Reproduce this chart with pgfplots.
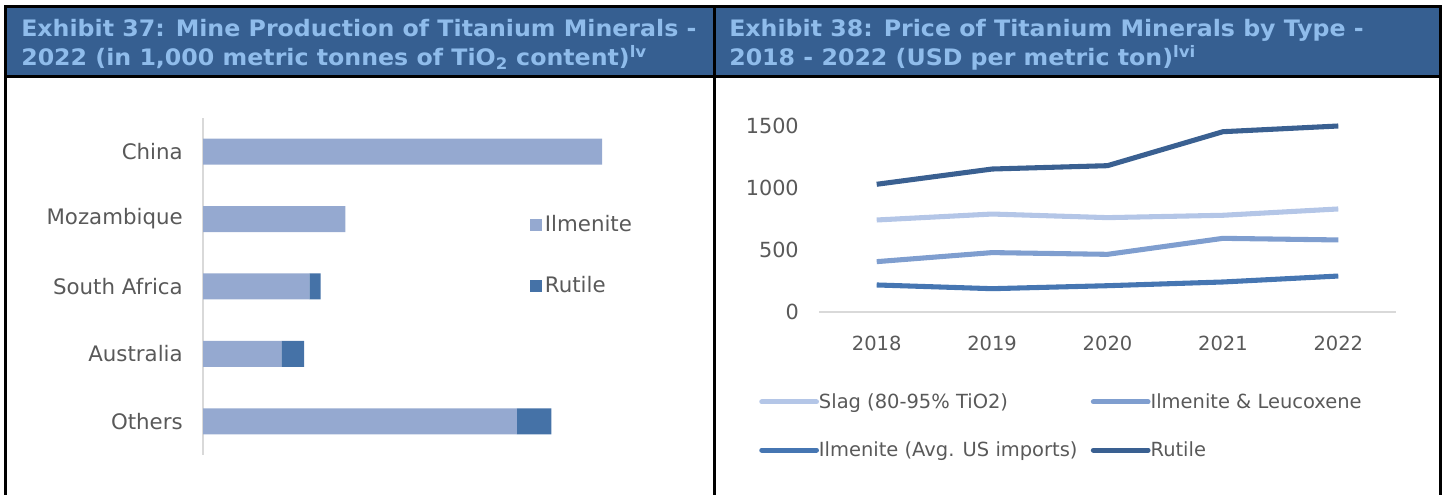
\documentclass[border=0pt]{standalone}
\usepackage{fontspec}
\setmainfont{DejaVu Sans}
\newfontfamily\hdrfont{DejaVu Sans}[FakeStretch=1.045]
\usepackage{pgfplots}
\pgfplotsset{compat=1.18}

\definecolor{hdrbg}{RGB}{54,95,145}
\definecolor{hdrtxt}{RGB}{143,188,235}
\definecolor{lbl}{RGB}{89,89,89}
\definecolor{axgray}{RGB}{217,217,217}
\definecolor{barilm}{RGB}{149,169,208}
\definecolor{barrut}{RGB}{69,114,167}
\definecolor{slag}{RGB}{180,198,231}
\definecolor{ilmleu}{RGB}{127,158,207}
\definecolor{ilmus}{RGB}{70,118,178}
\definecolor{rutile}{RGB}{58,96,145}

\newcommand{\lblfont}{\fontsize{14.6}{17}\selectfont}
\newcommand{\catfont}{\fontsize{16}{19}\selectfont}
\newcommand{\hdr}{\hdrfont\bfseries\fontsize{17}{20}\selectfont}

\begin{document}
\begin{tikzpicture}
% frame and headers, in pixels of the reference (1px = 0.75pt)
\begin{scope}[x=0.75pt,y=0.75pt]
\path[use as bounding box] (0,0) rectangle (1446,495);
\fill[hdrbg] (5,418) rectangle (1440,488);
\draw[line width=2.25pt] (5,0) -- (5,488) -- (1440,488) -- (1440,0);
\draw[line width=2.25pt] (5,418) -- (1440,418);
\draw[line width=2.25pt] (714,0) -- (714,488);
\node[anchor=base west, inner sep=0pt, text=hdrtxt, font=\hdr] at (21,458)
  {Exhibit 37: Mine Production of Titanium Minerals -};
\node[anchor=base west, inner sep=0pt, text=hdrtxt, font=\hdr] at (21,429)
  {2022 (in 1,000 metric tonnes of TiO\textsubscript{2} content)\textsuperscript{lv}};
\node[anchor=base west, inner sep=0pt, text=hdrtxt, font=\hdr] at (729,458)
  {Exhibit 38: Price of Titanium Minerals by Type -};
\node[anchor=base west, inner sep=0pt, text=hdrtxt, font=\hdr] at (729,429)
  {2018 - 2022 (USD per metric ton)\textsuperscript{lvi}};
\end{scope}

% Exhibit 37: stacked bars
\begin{axis}[
    at={(152.25pt,30pt)}, anchor=south west, scale only axis,
    width=299.25pt, height=252.75pt,
    xbar stacked, bar width=19.5pt,
    xmin=0, xmax=3000, ymin=-0.5, ymax=4.5,
    hide x axis, axis y line*=left,
    y axis line style={draw=axgray, line width=1.5pt},
    ytick={0,1,2,3,4},
    yticklabels={Others,Australia,South Africa,Mozambique,China},
    major tick length=0pt,
    yticklabel style={font=\catfont, text=lbl, inner sep=0pt, xshift=-15pt},
    clip=false,
    legend cell align=left,
    legend style={at={(rel axis cs:0.8195,0.593)}, anchor=west, draw=none, fill=none,
        inner sep=0pt, font=\catfont, text=lbl, row sep=28pt,
        nodes={inner xsep=2pt, inner ysep=2pt}},
]
\addplot[fill=barilm, draw=none,
    legend image code/.code={\fill[barilm] (0pt,-4.5pt) rectangle (9pt,4.5pt);}]
    coordinates {(2360,0) (590,1) (800,2) (1070,3) (3000,4)};
\addlegendentry{Ilmenite}
\addplot[fill=barrut, draw=none,
    legend image code/.code={\fill[barrut] (0pt,-4.5pt) rectangle (9pt,4.5pt);}]
    coordinates {(260,0) (170,1) (85,2) (0,3) (0,4)};
\addlegendentry{Rutile}
\end{axis}

% Exhibit 38: price lines
\begin{axis}[
    at={(614.25pt,137.25pt)}, anchor=south west, scale only axis,
    width=432.75pt, height=139.5pt,
    xmin=2017.5, xmax=2022.5, ymin=0, ymax=1500,
    axis x line*=bottom, axis y line*=left,
    y axis line style={draw=none},
    x axis line style={draw=axgray, line width=1.5pt},
    xtick={2018,2019,2020,2021,2022}, ytick={0,500,1000,1500},
    major tick length=0pt,
    /pgf/number format/1000 sep={},
    /pgf/number format/assume math mode=true,
    ticklabel style={font=\lblfont, text=lbl},
    yticklabel style={inner sep=0pt, xshift=-15pt, font=\fontsize{15.6}{18}\selectfont},
    xticklabel style={inner sep=0pt, yshift=-18pt},
    clip=false,
    legend columns=2,
    legend cell align=left,
    legend style={at={(rel axis cs:-0.104,-0.613)}, anchor=west, draw=none, fill=none,
        inner sep=0pt, font=\lblfont, text=lbl, row sep=19.5pt,
        nodes={inner xsep=0pt, inner ysep=2pt},
        /tikz/every even column/.append style={column sep=10pt}},
    legend image code/.code={\draw[#1, line cap=round] (0pt,0pt) -- (41pt,0pt);},
    every axis plot/.append style={line width=3.8pt, line join=round, mark=none},
]
\addplot[slag] coordinates {(2018,742) (2019,790) (2020,761) (2021,780) (2022,831)};
\addlegendentry{Slag (80-95\% TiO2)}
\addplot[ilmleu] coordinates {(2018,406) (2019,479) (2020,465) (2021,594) (2022,581)};
\addlegendentry{Ilmenite \& Leucoxene}
\addplot[ilmus] coordinates {(2018,218) (2019,188) (2020,212) (2021,242) (2022,290)};
\addlegendentry{Ilmenite (Avg. US imports)}
\addplot[rutile] coordinates {(2018,1030) (2019,1153) (2020,1180) (2021,1454) (2022,1500)};
\addlegendentry{Rutile}
\end{axis}
\end{tikzpicture}
\end{document}
